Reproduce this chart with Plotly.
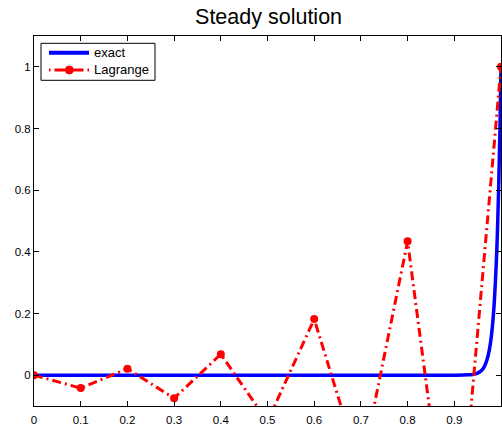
import plotly.graph_objects as go

# Lagrange (discrete) solution at nodes
x_nodes = [0, 0.1, 0.2, 0.3, 0.4, 0.5, 0.6, 0.7, 0.8, 0.9, 1.0]
y_lagrange = [0, -0.042, 0.021, -0.075, 0.068, -0.15, 0.182, -0.31, 0.434, -0.72, 1.0]

# Exact solution
x_exact = [0, 0.5, 0.9, 0.93, 0.94, 0.945, 0.95, 0.955, 0.96, 0.965, 0.97, 0.975,
           0.98, 0.985, 0.99, 0.9925, 0.995, 0.9975, 1.0]
y_exact = [0, 0, 0, 0.001, 0.0025, 0.004, 0.0067, 0.011, 0.018, 0.03, 0.05, 0.082,
           0.135, 0.223, 0.368, 0.472, 0.607, 0.779, 1.0]

x_ticks = [0, 0.1, 0.2, 0.3, 0.4, 0.5, 0.6, 0.7, 0.8, 0.9, 1]
x_ticklabels = ["0", "0.1", "0.2", "0.3", "0.4", "0.5", "0.6", "0.7", "0.8", "0.9", "1"]
y_ticks = [0, 0.2, 0.4, 0.6, 0.8, 1]
y_ticklabels = ["0", "0.2", "0.4", "0.6", "0.8", "1"]

series_names = ["exact", "Lagrange"]
BLUE = "#0000ff"
RED = "#ff0000"
DASHDOT = "9px,4px,2px,4px"

fig = go.Figure()
fig.add_trace(go.Scatter(x=x_exact, y=y_exact, mode="lines", name=series_names[0],
                         line=dict(color=BLUE, width=3.5), line_shape="spline",
                         showlegend=False))
fig.add_trace(go.Scatter(x=x_nodes, y=y_lagrange, mode="lines+markers", name=series_names[1],
                         line=dict(color=RED, width=3, dash=DASHDOT),
                         marker=dict(color=RED, size=8, symbol="circle"),
                         showlegend=False))

# Hand-built MATLAB-style legend (paper coordinates)
W, H, L, B = 467.0, 370.0, 34.0, 406.0
def px(x):
    return (x - L) / W
def py(y):
    return (B - y) / H

shapes = [
    dict(type="rect", xref="paper", yref="paper", x0=px(41), x1=px(155), y0=py(80.3), y1=py(43.3),
         line=dict(color="black", width=1), fillcolor="white", layer="above"),
    dict(type="line", xref="paper", yref="paper", x0=px(49), x1=px(89), y0=py(52.7), y1=py(52.7),
         line=dict(color=BLUE, width=4), layer="above"),
]
for a, b in [(49, 50.5), (54.5, 65), (73, 83.5), (87.5, 89)]:
    shapes.append(dict(type="line", xref="paper", yref="paper", x0=px(a), x1=px(b),
                       y0=py(70), y1=py(70), line=dict(color=RED, width=3), layer="above"))
shapes.append(dict(type="circle", xref="paper", yref="paper", x0=px(65.3), x1=px(73.3),
                   y0=py(74), y1=py(66), line=dict(color=RED, width=1), fillcolor=RED,
                   layer="above"))

annotations = [
    dict(text=series_names[0], xref="paper", yref="paper", x=px(92), y=py(52.7),
         xanchor="left", yanchor="middle", showarrow=False, font=dict(size=13, color="black")),
    dict(text=series_names[1], xref="paper", yref="paper", x=px(92), y=py(70),
         xanchor="left", yanchor="middle", showarrow=False, font=dict(size=13, color="black")),
]

fig.update_layout(
    width=502, height=426,
    margin=dict(l=34, r=1, t=36, b=20, autoexpand=False),
    paper_bgcolor="white", plot_bgcolor="white",
    font=dict(family="Liberation Sans, Arial, sans-serif", size=11.5, color="black"),
    title=dict(text="Steady solution", x=0.535, xanchor="center", y=0.962, yanchor="middle",
               font=dict(size=21.5, color="black")),
    showlegend=False,
    shapes=shapes,
    annotations=annotations,
    xaxis=dict(range=[0, 1], tickvals=x_ticks, ticktext=x_ticklabels, automargin=False,
               ticks="inside", ticklen=5, tickcolor="black", showgrid=False,
               zeroline=False, showline=True, linecolor="black", linewidth=1, mirror="ticks",
               ticklabelstandoff=3),
    yaxis=dict(range=[-0.1, 1.1], tickvals=y_ticks, ticktext=y_ticklabels, automargin=False,
               ticks="inside", ticklen=5, tickcolor="black", showgrid=False,
               zeroline=False, showline=True, linecolor="black", linewidth=1, mirror="ticks"),
)

fig.write_html("out.html")
